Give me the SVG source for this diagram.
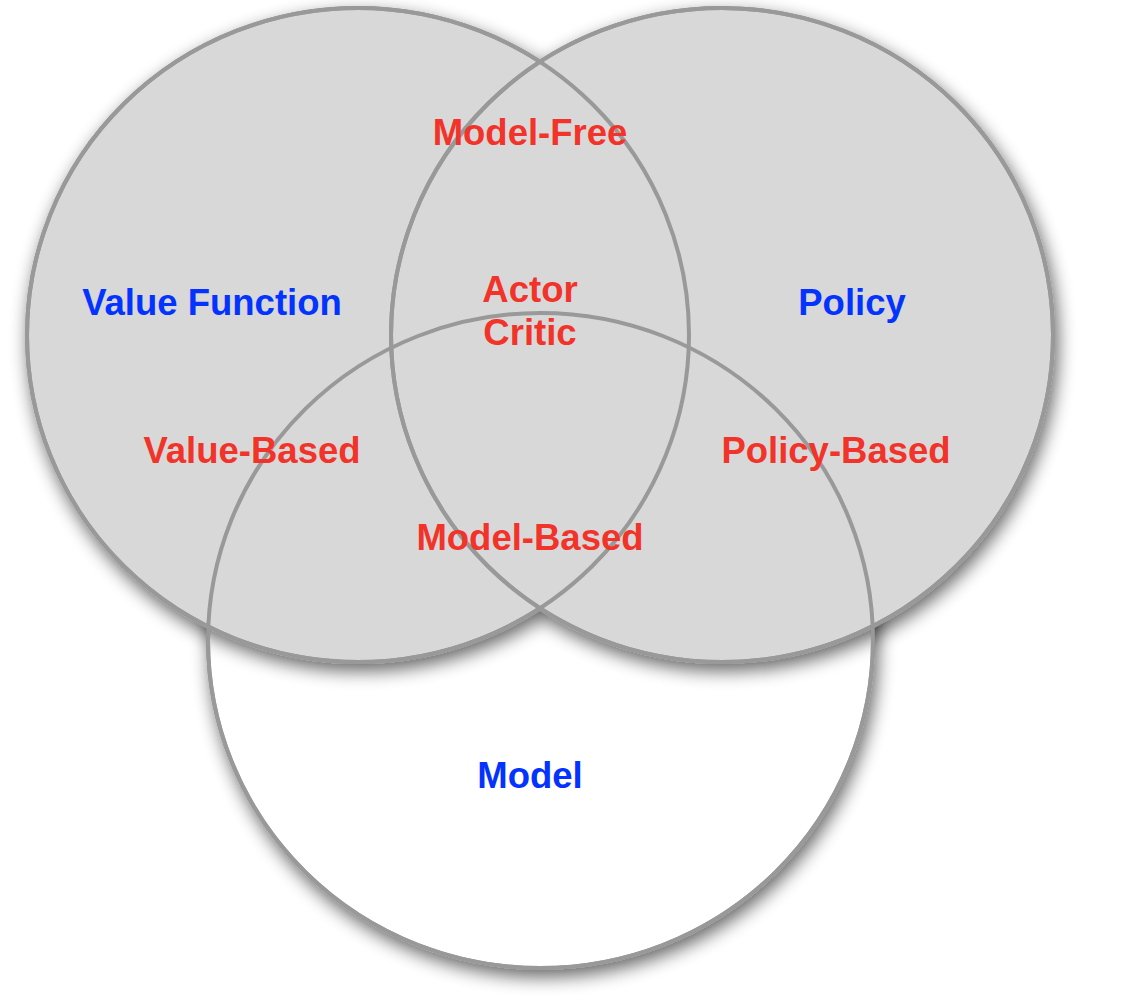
<svg xmlns="http://www.w3.org/2000/svg" width="1137" height="1000" viewBox="0 0 1137 1000">
  <defs>
    <filter id="shadow" x="-10%" y="-10%" width="125%" height="125%">
      <feGaussianBlur in="SourceAlpha" stdDeviation="9"/>
      <feOffset dx="3" dy="7" result="b"/>
      <feComponentTransfer><feFuncA type="linear" slope="0.6"/></feComponentTransfer>
      <feMerge><feMergeNode/><feMergeNode in="SourceGraphic"/></feMerge>
    </filter>
  </defs>
  <style>
    .ring { fill: none; stroke: #999999; stroke-width: 4; }
    .gray { fill: #d8d8d8; stroke: #999999; stroke-width: 4; }
    .white { fill: #ffffff; stroke: #999999; stroke-width: 4; }
    .set { font-family: "Liberation Sans", Arial, sans-serif; font-weight: bold; font-size: 36.5px; fill: #0433ff; text-anchor: middle; }
    .area { font-family: "Liberation Sans", Arial, sans-serif; font-weight: bold; font-size: 36.5px; fill: #f2332a; text-anchor: middle; }
  </style>
  <rect width="1137" height="1000" fill="#ffffff"/>
  <g id="fills">
    <g filter="url(#shadow)">
      <ellipse class="white" cx="540.5" cy="640.5" rx="332.5" ry="327.5"/>
    </g>
    <g filter="url(#shadow)">
      <ellipse class="gray" cx="358" cy="335" rx="331" ry="327"/>
      <ellipse class="gray" cx="722" cy="335" rx="331" ry="327"/>
    </g>
  </g>
  <g id="node-value-function">
    <ellipse class="ring" cx="358" cy="335" rx="331" ry="327"/>
    <text class="set" x="212" y="315">Value Function</text>
  </g>
  <g id="node-policy">
    <ellipse class="ring" cx="722" cy="335" rx="331" ry="327"/>
    <text class="set" x="852" y="315">Policy</text>
  </g>
  <g id="node-model">
    <ellipse class="ring" cx="540.5" cy="640.5" rx="332.5" ry="327.5"/>
    <text class="set" x="530" y="788">Model</text>
  </g>
  <g id="labels">
    <text class="area" x="530" y="145">Model-Free</text>
    <text class="area" x="530" y="302">Actor</text>
    <text class="area" x="530" y="345">Critic</text>
    <text class="area" x="252" y="463">Value-Based</text>
    <text class="area" x="836" y="463">Policy-Based</text>
    <text class="area" x="530" y="550">Model-Based</text>
  </g>
  <g id="connectors"/>
</svg>
